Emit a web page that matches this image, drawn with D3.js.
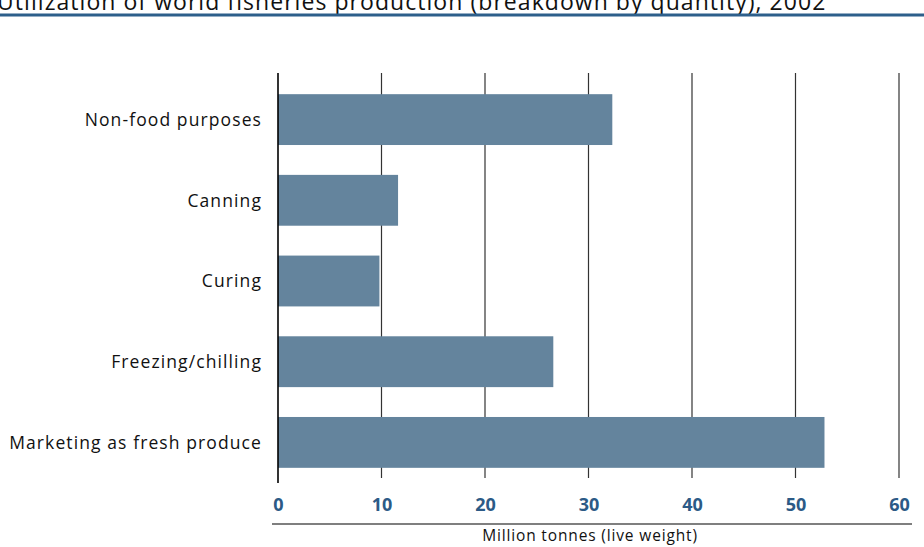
<!DOCTYPE html>
<html><head><meta charset="utf-8">
<script src="https://cdn.jsdelivr.net/npm/d3@7"></script>
<style>body{margin:0;background:#fff;} svg{display:block;font-family:"Open Sans","Noto Sans",sans-serif;}</style>
</head><body>
<svg id="c" width="924" height="547"></svg>
<script>
const titleText = "Utilization of world fisheries production (breakdown by quantity), 2002";
const categories = ["Non-food purposes","Canning","Curing","Freezing/chilling","Marketing as fresh produce"];
const values = [32.3, 11.6, 9.8, 26.6, 52.8];
const ticks = [0,10,20,30,40,50,60];
const axisTitle = "Million tonnes (live weight)";

const svg = d3.select("#c");
const x = d3.scaleLinear().domain([0,60]).range([278,899]);
const y = d3.scaleBand().domain(categories).range([74,488]).paddingInner(0.37).paddingOuter(0.25);

// title
svg.append("text").attr("x",-3).attr("y",9.5).attr("font-size",23).attr("letter-spacing",1.05)
  .attr("fill","#111").text(titleText);
svg.append("rect").attr("x",0).attr("y",13.5).attr("width",924).attr("height",3).attr("fill","#2d5f8b");

// gridlines
svg.append("g").selectAll("line").data(ticks.slice(1)).join("line")
  .attr("x1",d=>x(d)).attr("x2",d=>x(d)).attr("y1",73).attr("y2",478)
  .attr("stroke","#333").attr("stroke-width",1.2);

// bars
svg.append("g").selectAll("rect").data(values).join("rect")
  .attr("x",x(0)).attr("y",(d,i)=>y(categories[i]))
  .attr("width",d=>x(d)-x(0)).attr("height",y.bandwidth())
  .attr("fill","#64849d");

// left axis line
svg.append("line").attr("x1",x(0)).attr("x2",x(0)).attr("y1",73).attr("y2",483)
  .attr("stroke","#000").attr("stroke-width",1.6);

// category labels
svg.append("g").selectAll("text").data(categories).join("text")
  .attr("x",262).attr("y",d=>y(d)+y.bandwidth()/2).attr("dy","0.36em")
  .attr("text-anchor","end").attr("font-size",17.5).attr("letter-spacing",1.1)
  .attr("fill","#111").text(d=>d);

// tick labels
const xAxis = d3.axisBottom(x).tickValues(ticks).tickSize(0).tickPadding(0);
const ga = svg.append("g").attr("transform","translate(0,510.5)").call(xAxis);
ga.select(".domain").remove();
ga.selectAll("text").attr("font-size",18).attr("font-weight","bold").attr("fill","#2c5a86")
  .attr("font-family","'Open Sans','Noto Sans',sans-serif").attr("dy","0");

// axis title rule + text
svg.append("line").attr("x1",272).attr("x2",912).attr("y1",524).attr("y2",524).attr("stroke","#000").attr("stroke-width",1.2);
svg.append("text").attr("x",590).attr("y",541).attr("text-anchor","middle").attr("font-size",15.5).attr("letter-spacing",0.85)
  .attr("fill","#111").text(axisTitle);
</script>
</body></html>
